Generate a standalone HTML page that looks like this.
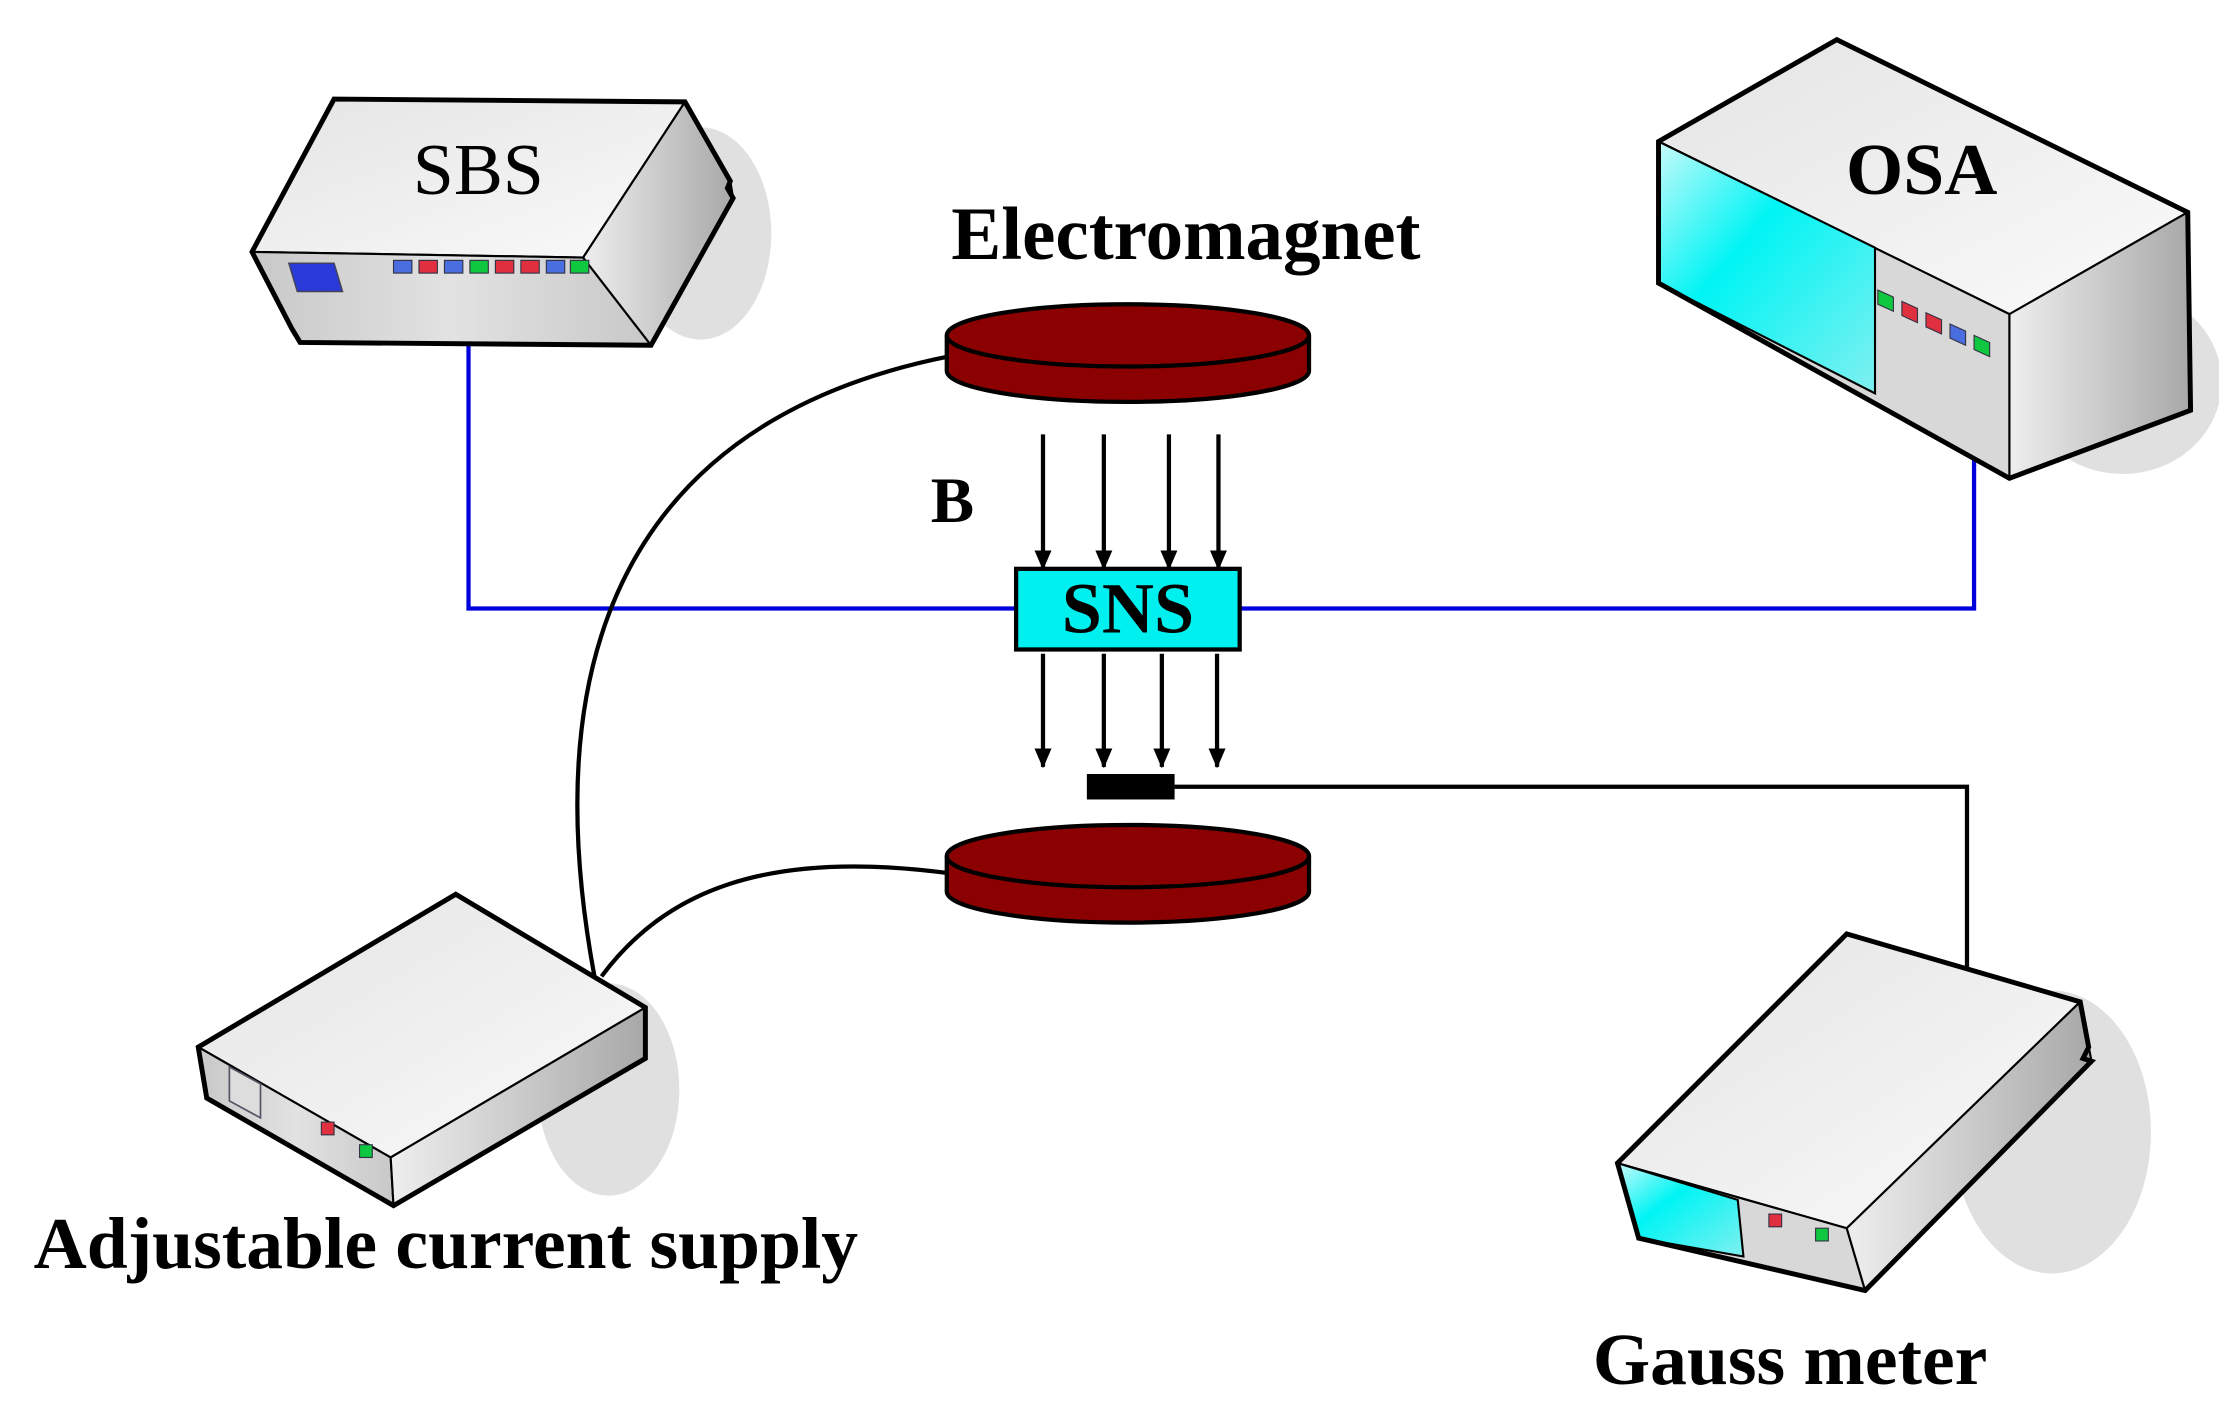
<!DOCTYPE html>
<html><head><meta charset="utf-8"><style>html,body{margin:0;padding:0;background:#fff}svg{display:block}</style></head>
<body>
<svg width="2219" height="1415" viewBox="0 0 1568 1000" xmlns="http://www.w3.org/2000/svg">
<defs>
<linearGradient id="top" x1="0" y1="0" x2="1" y2="1"><stop offset="0" stop-color="#e4e4e4"/><stop offset="1" stop-color="#fafafa"/></linearGradient>
<linearGradient id="front" x1="0" y1="0" x2="1" y2="0"><stop offset="0" stop-color="#c8c8c8"/><stop offset="0.5" stop-color="#e2e2e2"/><stop offset="1" stop-color="#c8c8c8"/></linearGradient>
<linearGradient id="side" x1="0" y1="0" x2="1" y2="0"><stop offset="0" stop-color="#eeeeee"/><stop offset="1" stop-color="#a8a8a8"/></linearGradient>
<linearGradient id="cyan" x1="0" y1="0" x2="1" y2="1"><stop offset="0" stop-color="#c8fafa"/><stop offset="0.4" stop-color="#00f4f4"/><stop offset="1" stop-color="#80f0f0"/></linearGradient>
<marker id="ah" markerWidth="14" markerHeight="12" refX="13" refY="6" orient="auto" markerUnits="userSpaceOnUse"><path d="M0,0 L14,6 L0,12 Z" fill="#000"/></marker>
</defs>
<g stroke="#000" stroke-width="3" fill="none">
<polyline points="331,244 331,430 718,430" stroke="#0000dd"/>
<polyline points="876,430 1395,430 1395,322" stroke="#0000dd"/>
<path d="M670,252 C480,290 370,420 420,690"/>
<path d="M670,617 C540,600 470,630 425,690"/>
<polyline points="830,556 1390,556 1390,685"/>
</g>
<ellipse cx="495" cy="165" rx="50" ry="75" fill="#e0e0e0"/>
<ellipse cx="1500" cy="270" rx="70" ry="65" fill="#e0e0e0"/>
<ellipse cx="430" cy="770" rx="50" ry="75" fill="#e0e0e0"/>
<ellipse cx="1450" cy="800" rx="70" ry="100" fill="#e0e0e0"/>
<!-- SBS -->
<g stroke="#000" stroke-width="1.5">
<polygon points="236,70 484,72 412,182 178,178" fill="url(#top)"/>
<polygon points="178,178 412,182 460,244 212,242 206,232" fill="url(#front)"/>
<polygon points="412,182 484,72 516,128 518,140 460,244" fill="url(#side)"/>
</g>
<polygon points="236,70 484,72 516,128 514,133 518,140 460,244 212,242 206,232 178,178" fill="none" stroke="#000" stroke-width="3.5"/>
<polygon points="204,186 236,186 242,206 210,206" fill="#2a3ad8" stroke="#445" stroke-width="1"/>
<g stroke="#334" stroke-width="0.8">
<rect x="278" y="184" width="13" height="9" fill="#4a6ee0"/><rect x="296" y="184" width="13" height="9" fill="#e03040"/><rect x="314" y="184" width="13" height="9" fill="#4a6ee0"/><rect x="332" y="184" width="13" height="9" fill="#10c840"/><rect x="350" y="184" width="13" height="9" fill="#e03040"/><rect x="368" y="184" width="13" height="9" fill="#e03040"/><rect x="386" y="184" width="13" height="9" fill="#4a6ee0"/><rect x="403" y="184" width="13" height="9" fill="#10c840"/>
</g>
<text x="338" y="137" font-family="Liberation Serif, serif" font-size="52" text-anchor="middle">SBS</text>
<!-- OSA -->
<g stroke="#000" stroke-width="1.5">
<polygon points="1172,100 1298,28 1546,150 1420,222" fill="url(#top)"/>
<polygon points="1172,100 1420,222 1420,338 1172,200" fill="#d8d8d8"/>
<polygon points="1172,100 1325,175 1325,278 1172,200" fill="url(#cyan)"/>
<polygon points="1420,222 1546,150 1548,290 1420,338" fill="url(#side)"/>
</g>
<polygon points="1172,100 1298,28 1546,150 1548,290 1420,338 1172,200" fill="none" stroke="#000" stroke-width="3.5"/>
<g stroke="#334" stroke-width="0.8">
<polygon points="1327,205 1338,210 1338,220 1327,215" fill="#10c840"/>
<polygon points="1344,213 1355,218 1355,228 1344,223" fill="#e03040"/>
<polygon points="1361,221 1372,226 1372,236 1361,231" fill="#e03040"/>
<polygon points="1378,229 1389,234 1389,244 1378,239" fill="#4a6ee0"/>
<polygon points="1395,237 1406,242 1406,252 1395,247" fill="#10c840"/>
</g>
<text x="1358" y="137" font-family="Liberation Serif, serif" font-weight="bold" font-size="52" text-anchor="middle">OSA</text>
<!-- Electromagnets -->
<g stroke="#000" stroke-width="3" fill="#8b0000">
<path d="M669,237 L669,262 A128,22 0 0 0 925,262 L925,237"/>
<ellipse cx="797" cy="237" rx="128" ry="22"/>
<path d="M669,605 L669,630 A128,22 0 0 0 925,630 L925,605"/>
<ellipse cx="797" cy="605" rx="128" ry="22"/>
</g>
<text x="838" y="183" font-family="Liberation Serif, serif" font-weight="bold" font-size="53" text-anchor="middle">Electromagnet</text>
<g stroke="#000" stroke-width="3" marker-end="url(#ah)">
<line x1="737" y1="307" x2="737" y2="402"/><line x1="780" y1="307" x2="780" y2="402"/><line x1="826" y1="307" x2="826" y2="402"/><line x1="861" y1="307" x2="861" y2="402"/>
<line x1="737" y1="462" x2="737" y2="542"/><line x1="780" y1="462" x2="780" y2="542"/><line x1="821" y1="462" x2="821" y2="542"/><line x1="860" y1="462" x2="860" y2="542"/>
</g>
<text x="673" y="369" font-family="Liberation Serif, serif" font-weight="bold" font-size="46" text-anchor="middle">B</text>
<rect x="718" y="402" width="158" height="57" fill="#00f0f0" stroke="#000" stroke-width="3"/>
<text x="797" y="447" font-family="Liberation Serif, serif" font-weight="bold" font-size="51" text-anchor="middle">SNS</text>
<rect x="768" y="547" width="62" height="18" fill="#000"/>
<!-- current supply -->
<g stroke="#000" stroke-width="1.5">
<polygon points="140,740 322,632 456,712 276,818" fill="url(#top)"/>
<polygon points="140,740 276,818 278,852 146,776" fill="url(#front)"/>
<polygon points="276,818 456,712 456,748 278,852" fill="url(#side)"/>
</g>
<polygon points="140,740 322,632 456,712 456,748 278,852 146,776" fill="none" stroke="#000" stroke-width="3.5"/>
<polygon points="162,754 184,766 184,790 162,778" fill="#ddd" stroke="#556" stroke-width="1.2"/>
<rect x="227" y="793" width="9" height="9" fill="#e03040" stroke="#334" stroke-width="0.8"/>
<rect x="254" y="809" width="9" height="9" fill="#10c840" stroke="#334" stroke-width="0.8"/>
<text x="315" y="896" font-family="Liberation Serif, serif" font-weight="bold" font-size="52" text-anchor="middle">Adjustable current supply</text>
<!-- Gauss meter -->
<g stroke="#000" stroke-width="1.5">
<polygon points="1143,822 1305,660 1470,708 1305,868" fill="url(#top)"/>
<polygon points="1143,822 1305,868 1318,912 1158,875" fill="#d8d8d8"/>
<polygon points="1143,822 1228,848 1232,888 1158,875" fill="url(#cyan)"/>
<polygon points="1305,868 1470,708 1478,750 1318,912" fill="url(#side)"/>
</g>
<polygon points="1143,822 1305,660 1470,708 1476,740 1472,748 1478,750 1318,912 1158,875" fill="none" stroke="#000" stroke-width="3.5"/>
<rect x="1250" y="858" width="9" height="9" fill="#e03040" stroke="#334" stroke-width="0.8"/>
<rect x="1283" y="868" width="9" height="9" fill="#10c840" stroke="#334" stroke-width="0.8"/>
<text x="1265" y="978" font-family="Liberation Serif, serif" font-weight="bold" font-size="52" text-anchor="middle">Gauss meter</text>
</svg>
</body></html>
